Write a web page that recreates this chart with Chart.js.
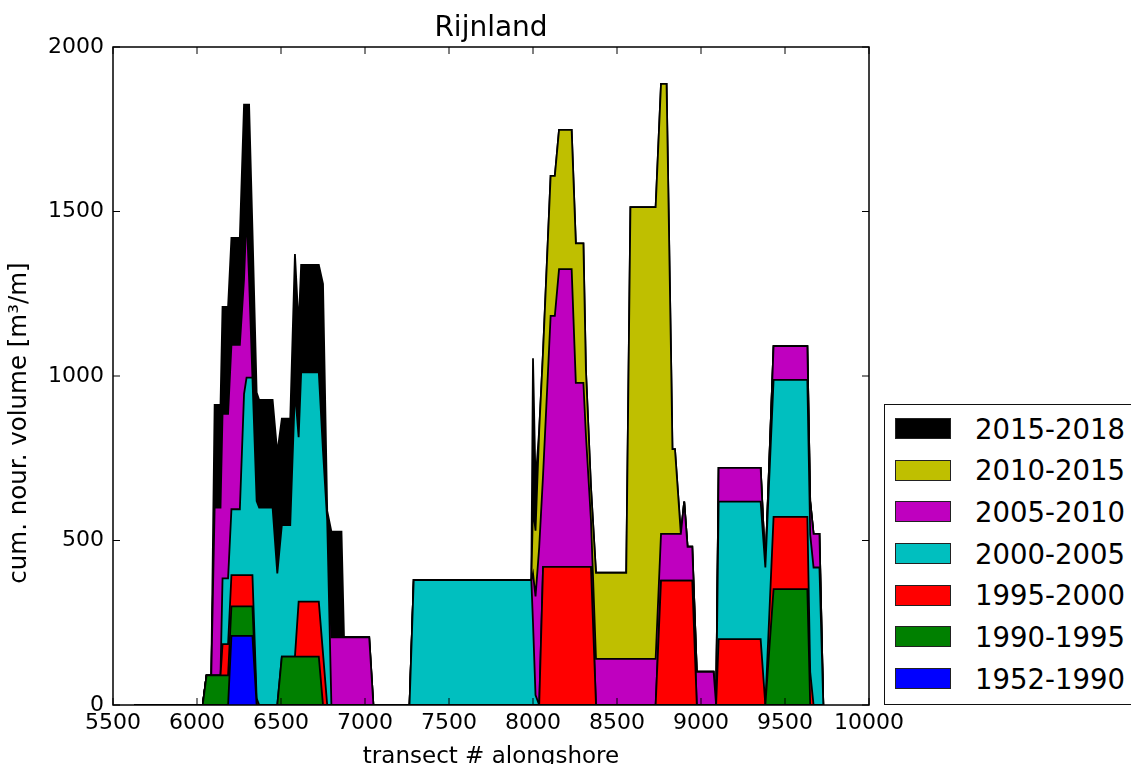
<!DOCTYPE html>
<html lang="en">
<head>
    <meta charset="UTF-8">
    <title>Rijnland</title>
    <style>
        body { margin: 0; background: #fff; overflow: hidden; }
        #wrap { position: relative; width: 1131px; height: 764px; }
        #legend {
            position: absolute; left: 884px; top: 404px; width: 262px; height: 301px;
            border: 1.5px solid #111; box-sizing: border-box; background: #fff;
            font-family: "DejaVu Sans", sans-serif; font-size: 27.5px; color: #000;
        }
        .row { position: absolute; left: 0; height: 30px; display: flex; align-items: center; }
        .sw { width: 56px; height: 21px; border: 1px solid #222; margin-left: 10px; box-sizing: border-box; }
        .lbl { margin-left: 24px; white-space: nowrap; }
    </style>
</head>
<body>
<div id="wrap">
    <canvas id="grafico" width="1131" height="764"></canvas>
    <div id="legend"></div>
</div>

<script src="https://cdn.jsdelivr.net/npm/chart.js"></script>
<script>
    // transect positions (breakpoints) and the volume per period at each of them
    const transects = [5625, 6034, 6057, 6085, 6105, 6140, 6152, 6185, 6205, 6255, 6280, 6295, 6310, 6330, 6355, 6370,
        6450, 6478, 6505, 6555, 6583, 6605, 6620, 6725, 6750, 6775, 6800, 6860, 6875, 7025, 7050, 7265, 7290,
        7990, 8000, 8015, 8037, 8060, 8105, 8130, 8155, 8230, 8255, 8300, 8315, 8345, 8375, 8555, 8580, 8730,
        8762, 8795, 8823, 8830, 8845, 8880, 8900, 8920, 8948, 8975, 9075, 9090, 9105, 9355, 9383, 9432, 9633,
        9650, 9670, 9705, 9728];

    const v1952 = [0, 0, 0, 0, 0, 0, 0, 0, 210, 210, 210, 210, 210, 210, 0, 0,
        0, 0, 0, 0, 0, 0, 0, 0, 0, 0, 0, 0, 0, 0, 0, 0, 0,
        0, 0, 0, 0, 0, 0, 0, 0, 0, 0, 0, 0, 0, 0, 0, 0, 0,
        0, 0, 0, 0, 0, 0, 0, 0, 0, 0, 0, 0, 0, 0, 0, 0, 0,
        0, 0, 0, 0];
    const v1990 = [0, 0, 90, 90, 90, 90, 90, 90, 90, 90, 90, 90, 90, 90, 0, 0,
        0, 0, 147, 147, 147, 147, 147, 147, 0, 0, 0, 0, 0, 0, 0, 0, 0,
        0, 0, 0, 0, 0, 0, 0, 0, 0, 0, 0, 0, 0, 0, 0, 0, 0,
        0, 0, 0, 0, 0, 0, 0, 0, 0, 0, 0, 0, 0, 0, 0, 352, 352,
        0, 0, 0, 0];
    const v1995 = [0, 0, 0, 0, 0, 0, 95, 95, 95, 95, 95, 95, 95, 95, 20, 0,
        0, 0, 0, 0, 0, 167, 167, 167, 157, 0, 0, 0, 0, 0, 0, 0, 0,
        0, 0, 0, 0, 420, 420, 420, 420, 420, 420, 420, 420, 420, 0, 0, 0, 0,
        378, 378, 378, 378, 378, 378, 378, 378, 378, 0, 0, 0, 200, 200, 0, 220, 220,
        100, 0, 0, 0];
    const v2000 = [0, 0, 0, 0, 0, 0, 200, 200, 200, 200, 550, 600, 600, 600, 600, 600,
        600, 400, 400, 400, 810, 500, 697, 697, 615, 560, 0, 0, 0, 0, 0, 0, 380,
        380, 250, 30, 0, 0, 0, 0, 0, 0, 0, 0, 0, 0, 0, 0, 0, 0,
        0, 0, 0, 0, 0, 0, 0, 0, 0, 0, 0, 0, 418, 418, 418, 416, 416,
        418, 418, 418, 0];
    const v2005 = [0, 0, 0, 0, 510, 510, 500, 500, 500, 500, 350, 500, 300, 0, 0, 0,
        0, 0, 0, 0, 0, 0, 0, 0, 0, 0, 206, 206, 206, 206, 0, 0, 0,
        0, 150, 300, 480, 280, 763, 763, 905, 905, 559, 559, 400, 142, 140, 140, 140, 140,
        142, 142, 142, 142, 142, 142, 240, 103, 103, 101, 101, 0, 103, 103, 0, 103, 103,
        102, 102, 102, 0];
    const v2010 = [0, 0, 0, 0, 0, 0, 0, 0, 0, 0, 0, 0, 0, 0, 0, 0,
        0, 0, 0, 0, 0, 0, 0, 0, 0, 0, 0, 0, 0, 0, 0, 0, 0,
        0, 200, 200, 356, 375, 425, 425, 423, 423, 424, 424, 198, 100, 262, 262, 1373, 1373,
        1368, 1368, 498, 258, 258, 0, 0, 0, 0, 0, 0, 0, 0, 0, 0, 0, 0,
        0, 0, 0, 0];
    const v2015 = [0, 0, 0, 0, 312, 312, 325, 325, 325, 325, 530, 330, 530, 450, 330, 327,
        327, 366, 323, 323, 414, 336, 327, 327, 508, 30, 321, 321, 0, 0, 0, 0, 0,
        0, 454, 150, 0, 0, 0, 0, 0, 0, 0, 0, 0, 0, 0, 0, 0, 0,
        0, 0, 0, 0, 0, 0, 0, 0, 0, 0, 0, 0, 0, 0, 0, 0, 0,
        0, 0, 0, 0];

    const periodes = ['1952-1990', '1990-1995', '1995-2000', '2000-2005', '2005-2010', '2010-2015', '2015-2018'];
    const series = [v1952, v1990, v1995, v2000, v2005, v2010, v2015];
    const cores = ['#0000ff', '#008000', '#ff0000', '#00bfbf', '#bf00bf', '#bfbf00', '#000000'];

    const xTicks = [5500, 6000, 6500, 7000, 7500, 8000, 8500, 9000, 9500, 10000];
    const yTicks = [0, 500, 1000, 1500, 2000];

    const xLabel = 'transect # alongshore';
    const yLabel = 'cum. nour. volume [m³/m]';

    const fonte = { family: 'DejaVu Sans', size: 22 };

    // moldura, ticks para dentro (estilo matplotlib) e rótulos dos eixos
    const moldura = {
        id: 'moldura',
        afterDatasetsDraw(chart) {
            const { ctx, chartArea: a, scales: { x, y } } = chart;
            ctx.save();
            ctx.strokeStyle = '#000';
            ctx.lineWidth = 1.5;
            ctx.strokeRect(a.left, a.top, a.right - a.left, a.bottom - a.top);
            ctx.lineWidth = 1;
            ctx.beginPath();
            xTicks.forEach(v => {
                const p = x.getPixelForValue(v);
                ctx.moveTo(p, a.bottom); ctx.lineTo(p, a.bottom - 7);
                ctx.moveTo(p, a.top); ctx.lineTo(p, a.top + 7);
            });
            yTicks.forEach(v => {
                const p = y.getPixelForValue(v);
                ctx.moveTo(a.left, p); ctx.lineTo(a.left + 7, p);
                ctx.moveTo(a.right, p); ctx.lineTo(a.right - 7, p);
            });
            ctx.stroke();

            ctx.fillStyle = '#000';
            ctx.textAlign = 'center';
            ctx.font = '23px "DejaVu Sans"';
            ctx.textBaseline = 'alphabetic';
            ctx.fillText(xLabel, (a.left + a.right) / 2, 763);

            ctx.translate(20, 423);
            ctx.rotate(-Math.PI / 2);
            ctx.font = '24.5px "DejaVu Sans"';
            ctx.textBaseline = 'middle';
            ctx.fillText(yLabel, 0, 0);
            ctx.restore();
        }
    };

    const ctx = document.getElementById('grafico').getContext('2d');
    const grafico = new Chart(ctx, {
        type: 'line',
        data: {
            datasets: series.map((s, k) => ({
                label: periodes[k],
                data: transects.map((t, i) => ({ x: t, y: s[i] })),
                backgroundColor: cores[k],
                borderColor: '#000',
                borderWidth: 1.8,
                fill: k === 0 ? 'origin' : '-1',
                pointRadius: 0,
                tension: 0
            }))
        },
        options: {
            responsive: false,
            animation: false,
            layout: { padding: { left: 0, right: 262, top: 0, bottom: 0 } },
            plugins: {
                legend: { display: false },
                tooltip: { enabled: false },
                title: {
                    display: true,
                    fullSize: false,
                    text: 'Rijnland',
                    color: '#000',
                    font: { family: 'DejaVu Sans', size: 28, weight: 'normal' },
                    padding: { top: 12, bottom: 1.4 }
                }
            },
            scales: {
                x: {
                    type: 'linear',
                    min: 5500, max: 10000,
                    afterFit: s => { s.height = 59; },
                    afterBuildTicks: s => { s.ticks = xTicks.map(v => ({ value: v })); },
                    ticks: { color: '#000', font: fonte, padding: 5, maxRotation: 0, callback: v => String(v) },
                    grid: { display: false, drawTicks: false },
                    border: { display: false },
                    title: { display: false }
                },
                y: {
                    stacked: true,
                    min: 0, max: 2000,
                    afterFit: s => { s.width = 113; },
                    afterBuildTicks: s => { s.ticks = yTicks.map(v => ({ value: v })); },
                    ticks: { color: '#000', font: fonte, padding: 9, callback: v => String(v) },
                    grid: { display: false, drawTicks: false },
                    border: { display: false },
                    title: { display: false }
                }
            }
        },
        plugins: [moldura]
    });

    // legenda em HTML (ordem invertida, como no original)
    const leg = document.getElementById('legend');
    for (let k = periodes.length - 1, n = 0; k >= 0; k--, n++) {
        const row = document.createElement('div');
        row.className = 'row';
        row.style.top = (8.5 + n * 41.67) + 'px';
        row.innerHTML = '<div class="sw" style="background:' + cores[k] + '"></div><span class="lbl">' + periodes[k] + '</span>';
        leg.appendChild(row);
    }
</script>
</body>
</html>
